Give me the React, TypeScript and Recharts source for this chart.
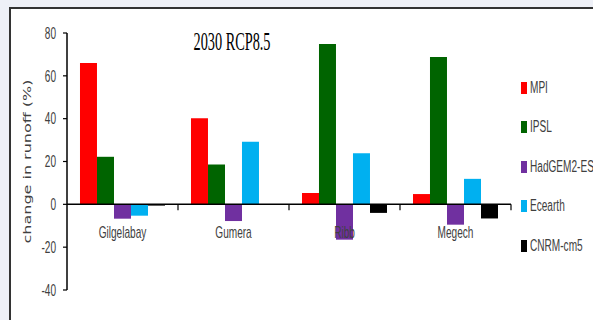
import React from "react"
import { Bar, BarChart, Legend, ReferenceLine, XAxis, YAxis } from "recharts"

const categories = ["Gilgelabay", "Gumera", "Ribb", "Megech"]
const mpi = [66, 40.2, 5.3, 4.8]
const ipsl = [22.2, 18.6, 74.9, 68.8]
const hadgem = [-6.7, -7.8, -16.5, -9.5]
const ecearth = [-5.3, 29.2, 23.8, 11.9]
const cnrm = [-0.6, 0, -4, -6.6]
const yTicks = [-40, -20, 0, 20, 40, 60, 80]

const series = [
  { key: "mpi", name: "MPI", color: "#ff0000", values: mpi },
  { key: "ipsl", name: "IPSL", color: "#006400", values: ipsl },
  { key: "hadgem", name: "HadGEM2-ES", color: "#7030a0", values: hadgem },
  { key: "ecearth", name: "Ecearth", color: "#00b0f0", values: ecearth },
  { key: "cnrm", name: "CNRM-cm5", color: "#000000", values: cnrm },
]

const data = categories.map((name, i) => {
  const row: Record<string, string | number> = { name }
  series.forEach((s) => (row[s.key] = s.values[i]))
  return row
})

const W = 593
const H = 320
const margin = { top: 33, right: 82, left: 0, bottom: 0 }
const yAxisWidth = 67
const xAxisHeight = 30
const plotTop = margin.top
const plotHeight = H - margin.top - margin.bottom - xAxisHeight
const plotWidth = W - margin.left - margin.right - yAxisWidth
const yMin = -40
const yMax = 80
const zeroY = plotTop + (plotHeight * yMax) / (yMax - yMin)
const band = plotWidth / categories.length

// the source figure is squeezed sideways, so every text is narrowed
const SQ = 0.63
const sans = "'Liberation Sans', Arial, sans-serif"

const YTick = (props: any) => {
  const { x, y, payload } = props
  return (
    <text
      transform={`translate(${x},${y}) scale(${SQ},1)`}
      textAnchor="end"
      dy="0.36em"
      fontFamily={sans}
      fontSize={16}
      fill="#404040"
    >
      {payload.value}
    </text>
  )
}

const XTick = (props: any) => {
  const { x, payload } = props
  return (
    <g>
      <line x1={x + band / 2} x2={x + band / 2} y1={zeroY} y2={zeroY + 6} stroke="#000" strokeWidth={1.2} />
      <text
        transform={`translate(${x},${zeroY + 34}) scale(${SQ},1)`}
        textAnchor="middle"
        fontFamily={sans}
        fontSize={16}
        fill="#404040"
      >
        {payload.value}
      </text>
    </g>
  )
}

const YLabel = (props: any) => {
  const vb = props.viewBox || { x: 0, y: 0, width: 0, height: 0 }
  const cx = vb.x + 27
  const cy = vb.y + vb.height / 2
  return (
    <text
      transform={`translate(${cx},${cy}) rotate(-90) scale(1,0.7)`}
      textAnchor="middle"
      dy="0.35em"
      fontFamily="'DejaVu Sans', sans-serif"
      fontSize={16}
      fill="#404040"
    >
      change in runoff (%)
    </text>
  )
}

const LegendBox = () => (
  <div>
    {series.map((s) => (
      <div key={s.key} style={{ height: 39.5, display: "flex", alignItems: "center" }}>
        <div style={{ width: 6, height: 12, background: s.color, marginRight: 3, flexShrink: 0 }} />
        <div
          style={{
            fontFamily: sans,
            fontSize: 16,
            color: "#404040",
            transform: `scaleX(${SQ})`,
            transformOrigin: "left center",
            whiteSpace: "nowrap",
          }}
        >
          {s.name}
        </div>
      </div>
    ))}
  </div>
)

export default function App() {
  return (
    <div style={{ position: "absolute", left: 0, top: 0, width: W, height: H, background: "#eef0f7", overflow: "hidden" }}>
      <div
        style={{
          position: "absolute",
          left: 9,
          top: 7,
          width: 620,
          height: 340,
          border: "2px solid #333",
          background: "#fff",
        }}
      />
      <div style={{ position: "absolute", left: 0, top: 0 }}>
        <BarChart width={W} height={H} data={data} margin={margin} barCategoryGap="11.7%" barGap={0}>
          <XAxis
            dataKey="name"
            height={xAxisHeight}
            axisLine={false}
            tickLine={false}
            tick={<XTick />}
            interval={0}
          />
          <YAxis
            width={yAxisWidth}
            domain={[yMin, yMax]}
            ticks={yTicks}
            allowDataOverflow
            axisLine={{ stroke: "#000", strokeWidth: 1.5 }}
            tickLine={{ stroke: "#000", strokeWidth: 1.2 }}
            tickSize={4}
            tickMargin={7}
            tick={<YTick />}
            label={{ value: "change in runoff (%)", position: "center", content: <YLabel /> }}
          />
          {series.map((s) => (
            <Bar key={s.key} dataKey={s.key} name={s.name} fill={s.color} isAnimationActive={false} />
          ))}
          <ReferenceLine y={0} stroke="#000" strokeWidth={1.5} />
          <Legend
            layout="horizontal"
            verticalAlign="middle"
            align="center"
            content={<LegendBox />}
            wrapperStyle={{ position: "absolute", left: 521, top: 68, width: 72 }}
          />
        </BarChart>
      </div>
      <svg style={{ position: "absolute", left: 0, top: 0 }} width={W} height={H}>
        <text
          transform={`translate(232,50) scale(0.55,1)`}
          textAnchor="middle"
          fontFamily="'Liberation Serif', 'Times New Roman', serif"
          fontSize={26}
          fill="#000"
        >
          2030 RCP8.5
        </text>
      </svg>
    </div>
  )
}
